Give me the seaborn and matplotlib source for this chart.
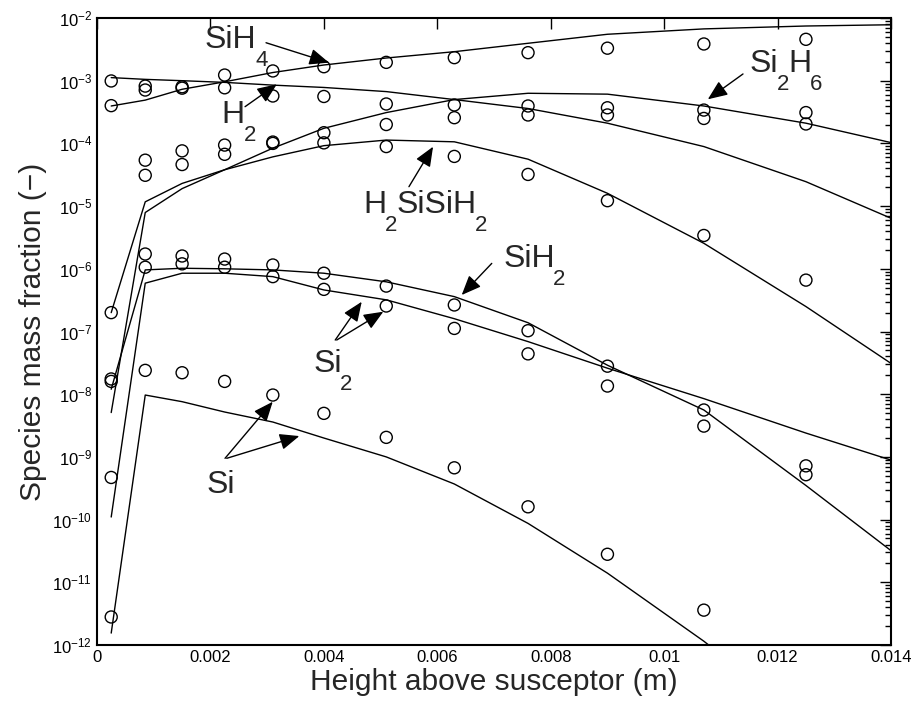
import numpy as np
import pandas as pd
import seaborn as sns
import matplotlib
matplotlib.use("Agg")
import matplotlib.pyplot as plt
from matplotlib import ticker

# --- datos ---
x_model = [0.00025, 0.00085, 0.0015, 0.00225, 0.0031, 0.004, 0.0051,
           0.0063, 0.0076, 0.009, 0.0107, 0.0125, 0.014]
x_exp = [0.00025, 0.00085, 0.0015, 0.00225, 0.0031, 0.004, 0.0051,
         0.0063, 0.0076, 0.009, 0.0107, 0.0125]

# curvas del modelo
sih4_model = [3.95e-4, 4.9e-4, 7.3e-4, 9.6e-4, 1.35e-3, 1.78e-3, 2.3e-3,
              2.9e-3, 3.95e-3, 5.5e-3, 6.7e-3, 7.45e-3, 7.8e-3]
h2_model = [1.12e-3, 1.05e-3, 1.0e-3, 9.4e-4, 8.5e-4, 7.8e-4, 6.7e-4,
            5.0e-4, 3.6e-4, 2.1e-4, 8.9e-5, 2.45e-5, 6.4e-6]
h2sisih2_model = [2.0e-7, 1.17e-5, 2.3e-5, 3.8e-5, 6.1e-5, 9.2e-5, 1.13e-4,
                  1.06e-4, 5.6e-5, 1.6e-5, 2.55e-6, 2.5e-7, 3.1e-8]
si2h6_model = [5.1e-9, 7.9e-6, 1.9e-5, 3.8e-5, 8.4e-5, 1.74e-4, 3.1e-4,
               5.0e-4, 6.3e-4, 6.1e-4, 3.95e-4, 2.1e-4, 1.03e-4]
sih2_model = [1.2e-8, 9.6e-7, 1.02e-6, 1.0e-6, 9.6e-7, 8.5e-7, 6.2e-7,
              3.6e-7, 1.38e-7, 2.9e-8, 5.6e-9, 3.5e-10, 3.2e-11]
si2_model = [1.1e-10, 5.9e-7, 8.5e-7, 8.5e-7, 7.5e-7, 4.6e-7, 3.2e-7,
             1.6e-7, 6.9e-8, 2.6e-8, 8.5e-9, 2.4e-9, 8.9e-10]
si_model = [1.55e-12, 9.7e-9, 7.6e-9, 5.2e-9, 3.6e-9, 2.0e-9, 1.0e-9,
            3.7e-10, 8.7e-11, 1.4e-11, 1.15e-12, 6e-14, 5e-15]

# puntos experimentales (circulos)
sih4_exp = [4.0e-4, 7.1e-4, 7.6e-4, 1.23e-3, 1.43e-3, 1.67e-3, 1.96e-3,
            2.33e-3, 2.8e-3, 3.3e-3, 3.85e-3, 4.57e-3]
h2_exp = [9.9e-4, 8.2e-4, 8.0e-4, 7.7e-4, 5.7e-4, 5.6e-4, 4.25e-4,
          4.1e-4, 2.84e-4, 2.84e-4, 2.5e-4, 2.04e-4]
si2h6_exp = [1.75e-8, 3.1e-5, 4.6e-5, 6.7e-5, 1.05e-4, 1.48e-4, 2.0e-4,
             2.57e-4, 3.95e-4, 3.7e-4, 3.4e-4, 3.1e-4]
h2sisih2_exp = [2.0e-7, 5.4e-5, 7.6e-5, 9.4e-5, 1.0e-4, 1.02e-4, 8.9e-5,
                6.2e-5, 3.2e-5, 1.22e-5, 3.4e-6, 6.6e-7]
sih2_exp = [1.6e-8, 1.72e-6, 1.6e-6, 1.43e-6, 1.15e-6, 8.5e-7, 5.3e-7,
            2.65e-7, 1.03e-7, 2.8e-8, 3.1e-9, 5.2e-10]
si2_exp = [4.7e-10, 1.06e-6, 1.2e-6, 1.06e-6, 7.5e-7, 4.7e-7, 2.55e-7,
           1.12e-7, 4.4e-8, 1.35e-8, 5.6e-9, 7.2e-10]
si_exp = [2.8e-12, 2.4e-8, 2.2e-8, 1.6e-8, 9.7e-9, 4.95e-9, 2.05e-9,
          6.7e-10, 1.6e-10, 2.8e-11, 3.6e-12, np.nan]

x_ticks = [0, 0.002, 0.004, 0.006, 0.008, 0.01, 0.012, 0.014]
y_ticks = [1e-12, 1e-11, 1e-10, 1e-9, 1e-8, 1e-7, 1e-6, 1e-5, 1e-4, 1e-3, 1e-2]

especies = ["SiH4", "H2", "H2SiSiH2", "Si2H6", "SiH2", "Si2", "Si"]
modelo = [sih4_model, h2_model, h2sisih2_model, si2h6_model,
          sih2_model, si2_model, si_model]
experimento = [sih4_exp, h2_exp, h2sisih2_exp, si2h6_exp,
               sih2_exp, si2_exp, si_exp]

df_lines = pd.concat([pd.DataFrame({"x": x_model, "y": v, "especie": e})
                      for e, v in zip(especies, modelo)])
df_pts = pd.concat([pd.DataFrame({"x": x_exp, "y": v, "especie": e})
                    for e, v in zip(especies, experimento)]).dropna()

# --- estilo ---
sns.set_theme(style="white")
plt.rcParams["font.family"] = ["Liberation Sans", "DejaVu Sans"]
plt.rcParams["mathtext.fontset"] = "custom"
plt.rcParams["mathtext.rm"] = "Liberation Sans"
plt.rcParams["mathtext.it"] = "Liberation Sans"
plt.rcParams["mathtext.default"] = "regular"

fig = plt.figure(figsize=(9.18, 7.11), dpi=100)
ax = fig.add_axes([0.1057, 0.0928, 0.8649, 0.8819])

sns.lineplot(data=df_lines, x="x", y="y", hue="especie",
             palette={e: "black" for e in especies}, legend=False,
             sort=False, estimator=None, linewidth=1.0, ax=ax)
sns.scatterplot(data=df_pts, x="x", y="y", marker="o", s=75,
                facecolor="none", edgecolor="black", linewidth=1.0, ax=ax)

ax.set_yscale("log")
ax.set_xlim(0, 0.014)
ax.set_ylim(1e-12, 1e-2)

ax.set_xticks(x_ticks)
ax.xaxis.set_major_formatter(ticker.FuncFormatter(lambda v, _: f"{v:g}"))
ax.set_yticks(y_ticks)
ax.yaxis.set_major_formatter(ticker.LogFormatterMathtext())
ax.yaxis.set_minor_locator(ticker.LogLocator(base=10, subs=range(2, 10), numticks=20))
ax.yaxis.set_minor_formatter(ticker.NullFormatter())

ax.tick_params(which="both", direction="in", top=True, right=True,
               colors="black", labelsize=12)
ax.tick_params(which="major", length=8, width=1)
ax.tick_params(which="minor", length=4, width=1)
for s in ax.spines.values():
    s.set_linewidth(1.5)
    s.set_color("black")

ax.set_xlabel("Height above susceptor (m)", fontsize=21.5, labelpad=2)
ax.set_ylabel("Species mass fraction (\u2212)", fontsize=21.5, labelpad=4)

# --- etiquetas con flechas ---
fs = 23
fs_sub = 16
flecha = dict(arrowstyle="-|>,head_length=0.6,head_width=0.25", color="black",
              lw=1.0, mutation_scale=20, shrinkA=0, shrinkB=0)


def formula(x, y, partes):
    # partes: lista de (texto, es_subindice); subindices grandes y bajos
    prev = ax.text(x, y, partes[0][0], fontsize=fs, va="baseline")
    for txt, sub in partes[1:]:
        if sub:
            prev = ax.annotate(txt, xy=(1, y), xycoords=(prev, "data"),
                               xytext=(-1, -1.5), textcoords="offset points",
                               fontsize=fs_sub, va="top", ha="left")
        else:
            prev = ax.annotate(txt, xy=(1, y), xycoords=(prev, "data"),
                               xytext=(-0.5, 0), textcoords="offset points",
                               fontsize=fs, va="baseline", ha="left")


formula(0.0019, 3.3e-3, [("SiH", False), ("4", True)])
ax.annotate("", xy=(0.00409, 1.94e-3), xytext=(0.00298, 4.03e-3), arrowprops=flecha)

formula(0.0022, 2.1e-4, [("H", False), ("2", True)])
ax.annotate("", xy=(0.00317, 8.77e-4), xytext=(0.00261, 3.85e-4), arrowprops=flecha)

formula(0.01151, 1.39e-3, [("Si", False), ("2", True), ("H", False), ("6", True)])
ax.annotate("", xy=(0.01077, 5.05e-4), xytext=(0.01139, 1.28e-3), arrowprops=flecha)

formula(0.00469, 7.7e-6, [("H", False), ("2", True), ("SiSiH", False), ("2", True)])
ax.annotate("", xy=(0.005925, 8.85e-5), xytext=(0.0055, 2.04e-5), arrowprops=flecha)

formula(0.00716, 1.08e-6, [("SiH", False), ("2", True)])
ax.annotate("", xy=(0.00643, 3.82e-7), xytext=(0.00696, 1.22e-6), arrowprops=flecha)

formula(0.00381, 2.29e-8, [("Si", False), ("2", True)])
ax.annotate("", xy=(0.004667, 2.98e-7), xytext=(0.0042, 7.31e-8), arrowprops=flecha)
ax.annotate("", xy=(0.005048, 2.07e-7), xytext=(0.004226, 7.31e-8), arrowprops=flecha)

ax.text(0.001934, 2.69e-10, "Si", fontsize=fs, va="baseline")
ax.annotate("", xy=(0.003098, 7.58e-9), xytext=(0.002257, 9.5e-10), arrowprops=flecha)
ax.annotate("", xy=(0.003567, 2.15e-9), xytext=(0.002287, 9.5e-10), arrowprops=flecha)

fig.savefig("out.png", dpi=100)
